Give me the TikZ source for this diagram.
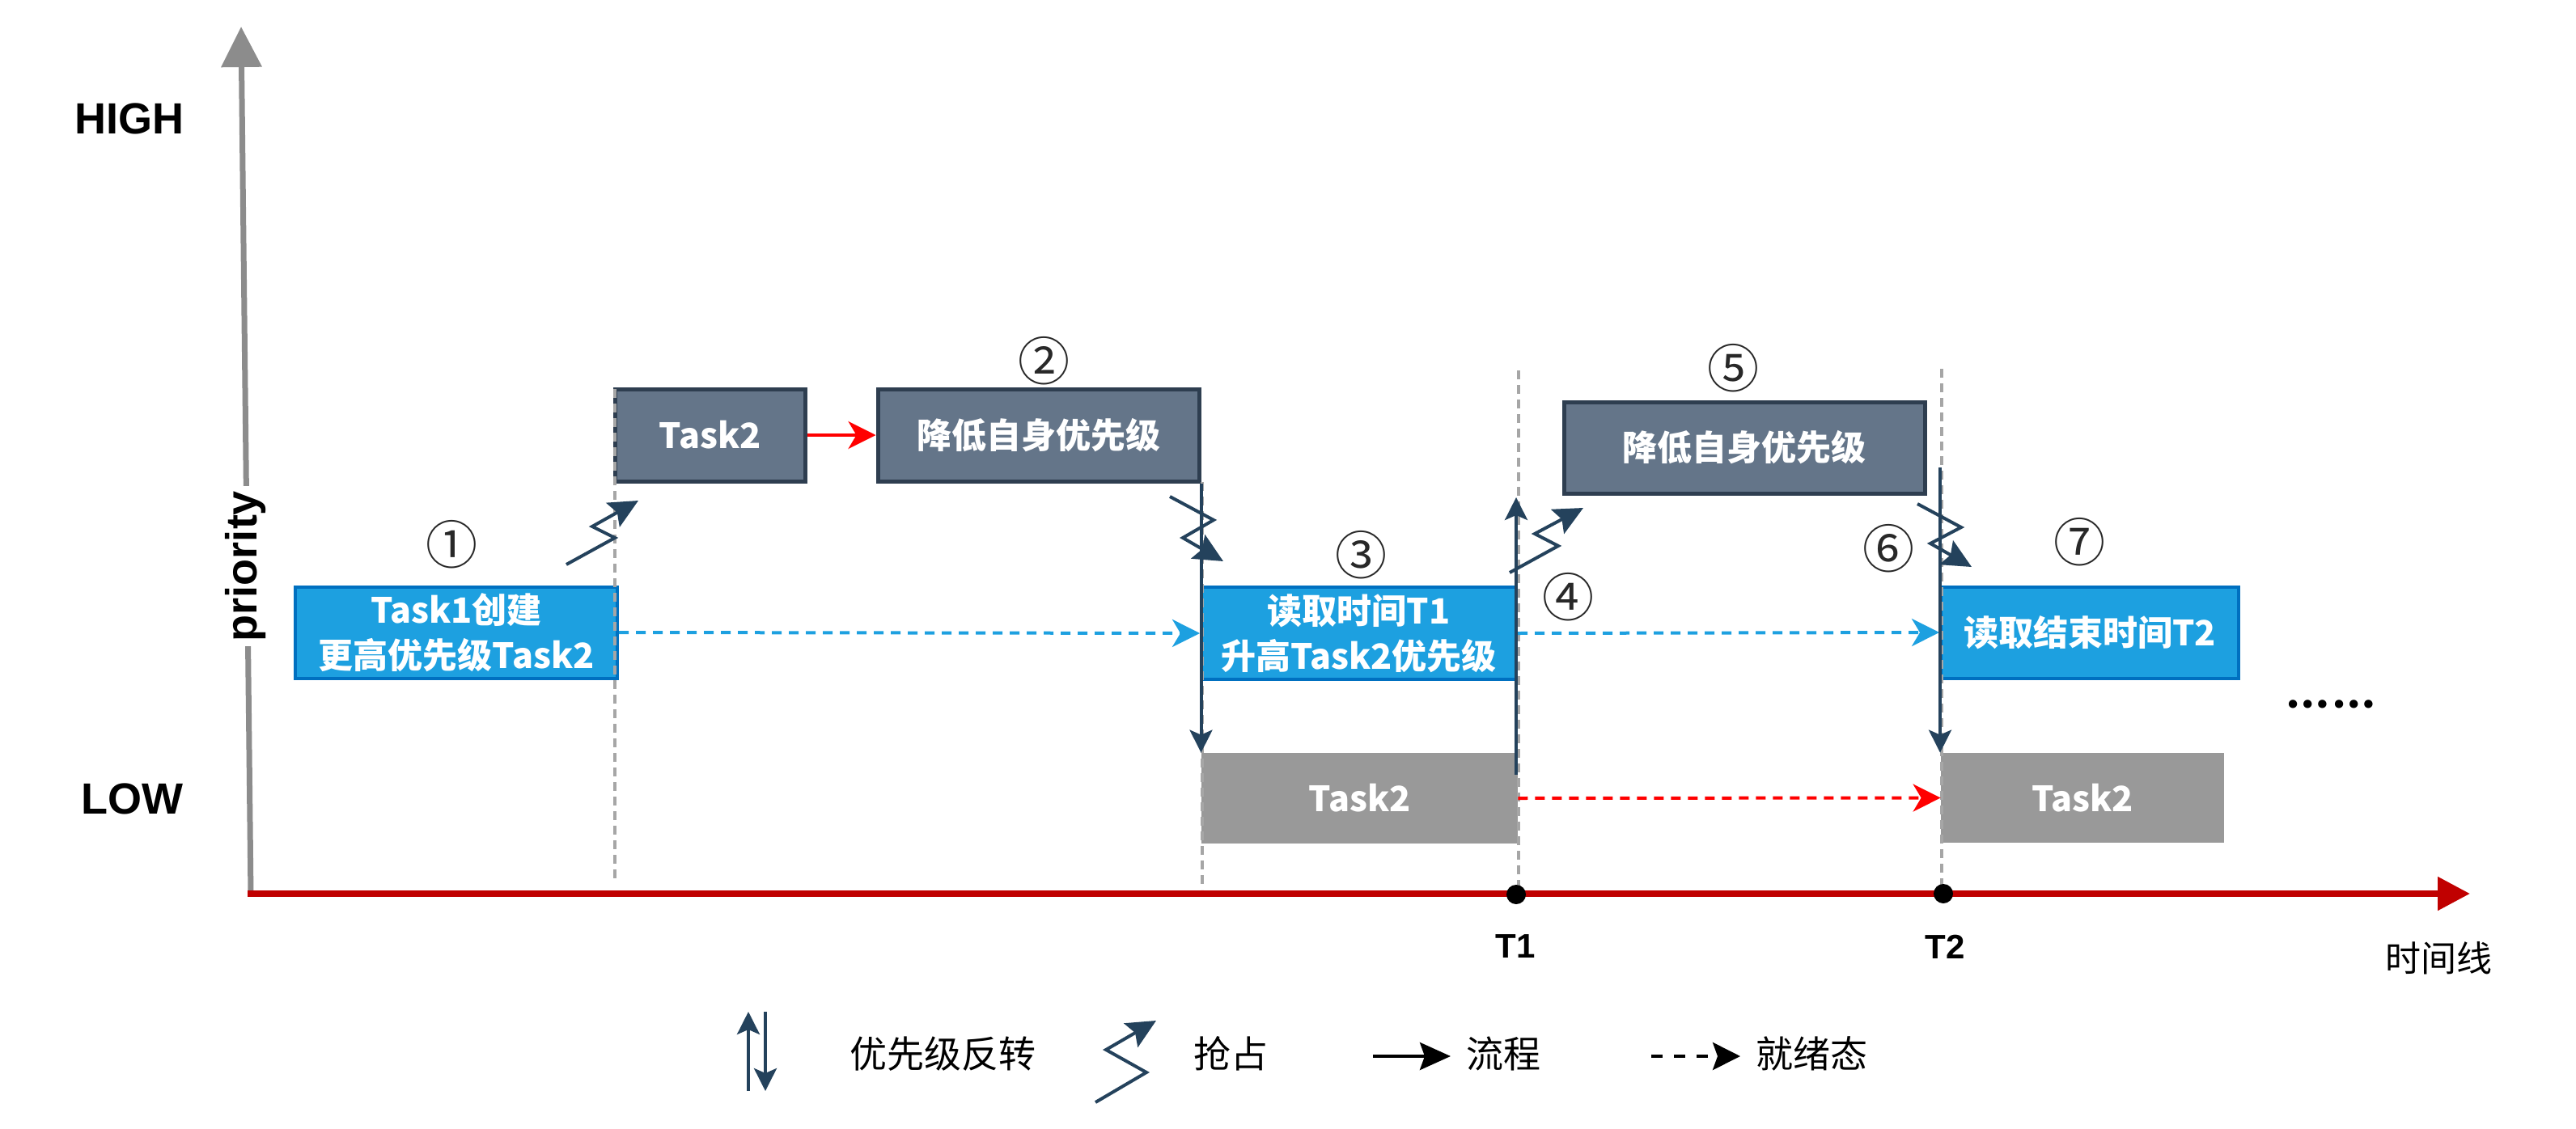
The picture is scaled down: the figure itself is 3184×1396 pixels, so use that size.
\documentclass[tikz,border=0pt]{standalone}
\usepackage{fontspec}
\setmainfont{Liberation Sans}
\newfontfamily\cjk{Noto Sans CJK SC}
\newfontfamily\dotsfont{Lato}
\IfFontExistsTF{FandolSong-Regular.otf}{\newfontfamily\song{FandolSong-Regular.otf}}{\newfontfamily\song{Noto Sans CJK SC}}
\usetikzlibrary{arrows.meta,calc}
\definecolor{bfill}{RGB}{29,160,224}
\definecolor{bborder}{RGB}{0,112,192}
\definecolor{sfill}{RGB}{100,117,137}
\definecolor{sborder}{RGB}{46,62,80}
\definecolor{gfill}{RGB}{153,153,153}
\definecolor{guidec}{RGB}{166,166,166}
\definecolor{yaxc}{RGB}{140,140,140}
\definecolor{taxc}{RGB}{192,0,0}
\definecolor{darkc}{RGB}{36,66,92}
\definecolor{numc}{RGB}{40,40,40}
\tikzset{
  boxfont/.style={font=\cjk\bfseries\fontsize{21.5}{28}\selectfont},
  bluebox/.style={draw=bborder, fill=bfill, line width=2pt, text=white, boxfont, align=center, inner sep=0pt},
  slatebox/.style={draw=sborder, fill=sfill, line width=2.5pt, text=white, boxfont, align=center, inner sep=0pt},
  graybox/.style={fill=gfill, text=white, boxfont, inner sep=0pt},
  num/.style={font=\cjk\fontsize{32}{32}\selectfont, text=numc, inner sep=0pt},
  guide/.style={draw=guidec, line width=2pt, dash pattern=on 5.5pt off 3.5pt},
  ready/.style={draw=bfill, line width=2pt, dash pattern=on 6pt off 4.5pt, -{Stealth[length=17pt,width=17pt,inset=5pt]}},
  redready/.style={draw=red, line width=2pt, dash pattern=on 6pt off 4.5pt, -{Stealth[length=17pt,width=17pt,inset=5pt]}},
  flow/.style={draw=red, line width=2pt, -{Stealth[length=17pt,width=17pt,inset=5pt]}},
  pinv/.style={draw=darkc, line width=2pt, -{Stealth[length=14pt,width=14pt,inset=3pt]}},
  zz/.style={draw=darkc, line width=2pt, -{Stealth[length=18pt,width=17pt,inset=3pt]}},
  lbl/.style={font=\bfseries\fontsize{27}{27}\selectfont, inner sep=0pt},
  tlbl/.style={font=\bfseries\fontsize{21}{21}\selectfont, inner sep=0pt},
  legtext/.style={font=\cjk\fontsize{23}{23}\selectfont, inner sep=0pt},
}
\begin{document}
\begin{tikzpicture}[x=0.5pt,y=-0.5pt]
\path[use as bounding box, fill=white] (0,0) rectangle (3184,1396);

% axes
\draw[draw=yaxc, line width=3.5pt, -{Triangle[length=25pt,width=24.5pt]}] (310,1106) -- (298,33);
\node[lbl, fill=white, rotate=90, inner sep=3pt] (prio) at (304,700) {priority};
\node[lbl] (high) at (160,147) {HIGH};
\node[lbl] (low) at (163,988) {LOW};
\draw[draw=taxc, line width=4pt, -{Triangle[length=20pt,width=20pt]}] (306,1105) -- (3053,1105);

% boxes
\node[bluebox, minimum width=199pt, minimum height=56.5pt] (b1) at (564,782) {Task1创建\\更高优先级Task2};
\node[slatebox, minimum width=117.5pt, minimum height=57pt] (t2a) at (877.5,538) {Task2};
\node[slatebox, minimum width=198.5pt, minimum height=57pt] (low1) at (1283.5,538) {降低自身优先级};
\node[bluebox, minimum width=194.5pt, minimum height=57pt] (b3) at (1679.5,783) {读取时间T1\\升高Task2优先级};
\node[graybox, minimum width=195.5pt, minimum height=56pt] (g1) at (1680.5,987) {Task2};
\node[slatebox, minimum width=223pt, minimum height=56.5pt] (low2) at (2156,553.5) {降低自身优先级};
\node[bluebox, minimum width=184pt, minimum height=56.5pt] (b7) at (2583,782) {读取结束时间T2};
\node[graybox, minimum width=175pt, minimum height=55.5pt] (g2) at (2574,986.5) {Task2};

% numbers
\node[num] (n1) at (558,673) {①};
\node[num] (n2) at (1290,446) {②};
\node[num] (n3) at (1682,686) {③};
\node[num] (n4) at (1938,738) {④};
\node[num] (n5) at (2142,455) {⑤};
\node[num] (n6) at (2334,678) {⑥};
\node[num] (n7) at (2570,670) {⑦};

% guides
\draw[guide] (760,481) -- (760,1090);
\draw[guide] (1486,596) -- (1486,1100);
\draw[guide] (1877,458) -- (1877,1100);
\draw[guide] (2400,456) -- (2400,1100);

% time marks
\fill (1874,1106) circle[radius=6pt];
\fill (2402,1105) circle[radius=6pt];
\node[tlbl] (t1) at (1873,1170) {T1};
\node[tlbl] (t2) at (2404,1171) {T2};
\node[font=\song\fontsize{22}{22}\selectfont, inner sep=0pt] (tl) at (3014,1185) {时间线};
\node[font=\dotsfont\bfseries\fontsize{34}{34}\selectfont, inner sep=0pt] (dots) at (2881,871) {…\hspace{2pt}…};

% connectors
\draw[flow] (t2a.east) -- (low1.west);
\draw[ready] (b1.east) -- (b3.west);
\draw[ready] (b3.east) -- (b7.west);
\draw[redready] (g1.east) -- (g2.west);
\draw[pinv] (low1.south east) -- (low1.south east |- g1.north);
\coordinate (upA) at (1874,958);
\coordinate (upB) at (1874,615);
\draw[pinv] (upA) -- (upB);
\coordinate (dnC) at (2398,578);
\draw[pinv] (dnC) -- (dnC |- g2.north);

% preemption zigzags
\draw[zz] (700,698) -- (760,665) -- (732,651) -- (789,619);
\draw[zz] (1446,614) -- (1500,643) -- (1462,665) -- (1512,694);
\draw[zz] (1866,708) -- (1926,675) -- (1897,660) -- (1957,628);
\draw[zz] (2370,623) -- (2424,652) -- (2386,672) -- (2437,701);

% legend
\coordinate (la1) at (925,1349);
\coordinate (la2) at (925,1251);
\coordinate (lb1) at (946,1251);
\coordinate (lb2) at (946,1349);
\draw[pinv] (la1) -- (la2);
\draw[pinv] (lb1) -- (lb2);
\node[legtext] (lg1) at (1165,1303) {优先级反转};
\draw[zz] (1354,1363) -- (1417,1326) -- (1367,1298) -- (1429,1262);
\node[legtext] (lg2) at (1521,1303) {抢占};
\coordinate (lf1) at (1697,1306);
\coordinate (lf2) at (1793,1306);
\draw[black, line width=2pt, -{Stealth[length=19pt,width=17pt,inset=3pt]}] (lf1) -- (lf2);
\node[legtext] (lg3) at (1858,1303) {流程};
\coordinate (lr1) at (2041,1306);
\coordinate (lr2) at (2151,1306);
\draw[black, line width=2pt, dash pattern=on 7pt off 7pt, -{Stealth[length=17pt,width=17pt,inset=3pt]}] (lr1) -- (lr2);
\node[legtext] (lg4) at (2239,1303) {就绪态};
\end{tikzpicture}
\end{document}
